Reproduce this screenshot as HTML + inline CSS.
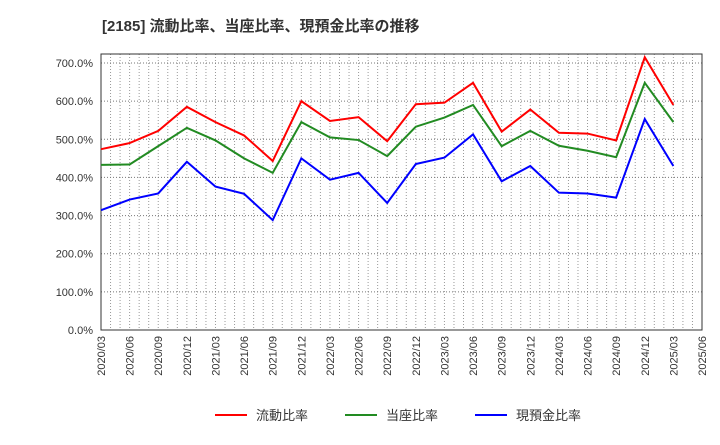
<!DOCTYPE html>
<html><head><meta charset="utf-8"><style>
body{margin:0;background:#fff;font-family:"Liberation Sans","Noto Sans CJK JP",sans-serif}
</style></head><body>
<svg id="chart" width="720" height="440" xmlns="http://www.w3.org/2000/svg" font-family="Liberation Sans, Noto Sans CJK JP, sans-serif">
<text x="102" y="31" font-size="15" font-weight="bold" fill="#333">[2185]  流動比率、当座比率、現預金比率の推移</text>
<g id="grid"></g><g id="axes"></g><g id="series"></g>
<g font-size="13" fill="#333">
<line x1="215" y1="415" x2="247" y2="415" stroke="#f00" stroke-width="2"/><text x="256" y="420">流動比率</text>
<line x1="345" y1="415" x2="377" y2="415" stroke="#228b22" stroke-width="2"/><text x="386" y="420">当座比率</text>
<line x1="475" y1="415" x2="507" y2="415" stroke="#00f" stroke-width="2"/><text x="516" y="420">現預金比率</text>
</g>
</svg>
<script>
const xLabels=["2020/03","2020/06","2020/09","2020/12","2021/03","2021/06","2021/09","2021/12","2022/03","2022/06","2022/09","2022/12","2023/03","2023/06","2023/09","2023/12","2024/03","2024/06","2024/09","2024/12","2025/03","2025/06"];
const yTicks=[0,100,200,300,400,500,600,700];
const current=[474,490,522,585,545,510,443,600,548,558,495,592,596,648,520,578,517,515,497,715,590];
const quick=[433,434,482,530,497,450,412,545,505,498,456,533,557,590,482,522,483,470,453,648,545];
const cash=[314,342,358,441,376,357,288,450,394,412,333,435,452,513,390,430,360,358,347,553,430];
const L=101,R=702,T=54,B=330;
const xs=i=>L+i*(R-L)/21;
const ys=v=>B-v*(B-63)/700;
const NS="http://www.w3.org/2000/svg";
function mk(p,t,a){const e=document.createElementNS(NS,t);for(const k in a)e.setAttribute(k,a[k]);p.appendChild(e);return e;}
const g=document.getElementById('grid'),ax=document.getElementById('axes'),s=document.getElementById('series');
for(let m=0;m<=63;m++){const x=L+m*(R-L)/63;const l=mk(g,'line',{x1:x,x2:x,y1:T,y2:B,stroke:'#999','stroke-dasharray':'1,2','stroke-width':1});

}
yTicks.forEach(v=>{const y=ys(v);const l=mk(g,'line',{x1:L,x2:R,y1:y,y2:y,stroke:'#777','stroke-dasharray':'1,2'});


const t=mk(ax,'text',{x:L-8,y:y+4,'text-anchor':'end','font-size':11,fill:'#333'});t.textContent=v.toFixed(1)+'%';

});
const fr=mk(ax,'rect',{x:L,y:T,width:R-L,height:B-T,fill:'none',stroke:'#333'});


xLabels.forEach((lab,i)=>{const x=xs(i);const t=mk(ax,'text',{transform:`translate(${x+4},${B+6}) rotate(-90)`,'text-anchor':'end','font-size':11,fill:'#333'});t.textContent=lab;

});
[[current,'#f00','current-ratio-line'],[quick,'#228b22','quick-ratio-line'],[cash,'#00f','cash-ratio-line']].forEach(([d,c,n])=>{
const p=mk(s,'polyline',{points:d.map((v,i)=>xs(i)+','+ys(v)).join(' '),fill:'none',stroke:c,'stroke-width':2});

});
</script>
</body></html>
